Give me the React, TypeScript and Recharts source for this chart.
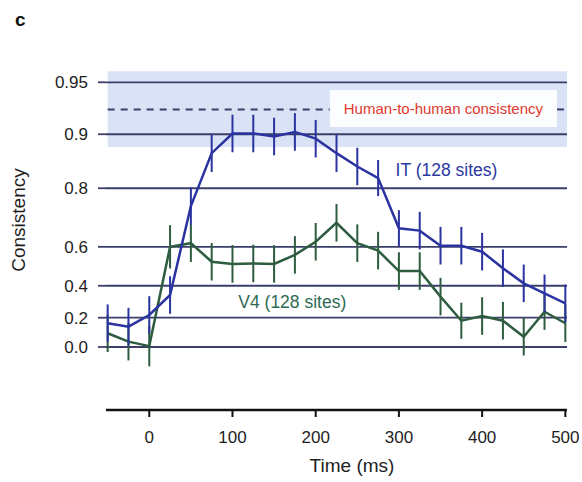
import React from 'react';
import {
  ComposedChart,
  Line,
  XAxis,
  YAxis,
  ErrorBar,
  ReferenceArea,
  ReferenceLine,
  ReferenceDot,
} from 'recharts';

// Time bins (ms relative to image onset)
const time = [-50, -25, 0, 25, 50, 75, 100, 125, 150, 175, 200, 225, 250, 275, 300, 325, 350, 375, 400, 425, 450, 475, 500];

// Consistency with human behaviour, IT population (128 sites)
const itConsistency = [0.163, 0.14, 0.218, 0.345, 0.751, 0.872, 0.901, 0.901, 0.897, 0.903, 0.894, 0.872, 0.848, 0.824, 0.676, 0.667, 0.605, 0.605, 0.578, 0.497, 0.414, 0.355, 0.293];
// Standard error, in Fisher-z units
const itSem = [0.13, 0.13, 0.13, 0.13, 0.13, 0.13, 0.13, 0.13, 0.13, 0.13, 0.13, 0.13, 0.13, 0.125, 0.125, 0.13, 0.13, 0.13, 0.13, 0.13, 0.13, 0.13, 0.13];

// Consistency with human behaviour, V4 population (128 sites)
const v4Consistency = [0.095, 0.037, 0.006, 0.6, 0.616, 0.53, 0.519, 0.521, 0.519, 0.563, 0.622, 0.696, 0.616, 0.583, 0.482, 0.482, 0.335, 0.18, 0.211, 0.18, 0.071, 0.239, 0.163];
const v4Sem = [0.13, 0.13, 0.14, 0.15, 0.13, 0.13, 0.13, 0.13, 0.13, 0.13, 0.13, 0.13, 0.13, 0.13, 0.13, 0.13, 0.13, 0.125, 0.13, 0.13, 0.13, 0.125, 0.13];

// Human-to-human consistency (mean and spread)
const humanMean = 0.928;
const humanLow = 0.882;
const humanHigh = 0.957;

// Axis ticks
const yTickValues = [0, 0.2, 0.4, 0.6, 0.8, 0.9, 0.95];
const yTickLabels = ['0.0', '0.2', '0.4', '0.6', '0.8', '0.9', '0.95'];
const xTickValues = [0, 100, 200, 300, 400, 500];

// Consistency is plotted on a Fisher-z (atanh) scale
const z = (r: number) => Math.atanh(r);

const data = time.map((t, i) => ({
  t,
  it: z(itConsistency[i]),
  itErr: itSem[i],
  v4: z(v4Consistency[i]),
  v4Err: v4Sem[i],
}));

const FONT = '"Liberation Sans", Arial, Helvetica, sans-serif';
const GRID = '#3b3e6a';
const IT_COLOR = '#2a33a0';
const V4_COLOR = '#2d5c3f';

const yTicks = yTickValues.map(z);
const formatY = (v: number) => {
  const i = yTicks.findIndex((tv) => Math.abs(tv - v) < 1e-6);
  return i >= 0 ? yTickLabels[i] : '';
};

export default function App() {
  return (
    <div style={{ position: 'absolute', left: 0, top: 0, width: 582, height: 482, fontFamily: FONT, background: '#fff' }}>
      <ComposedChart
        width={582}
        height={482}
        data={data}
        margin={{ top: 60, right: 15, bottom: 12, left: 0 }}
      >
        <XAxis
          dataKey="t"
          type="number"
          domain={[-52, 502]}
          ticks={xTickValues}
          allowDataOverflow
          tickSize={7}
          tickMargin={14}
          height={60}
          axisLine={{ stroke: '#111', strokeWidth: 2.5 }}
          tickLine={{ stroke: '#111', strokeWidth: 2 }}
          tick={{ fontSize: 17, fill: '#1e1e1e', fontFamily: FONT }}
        />
        <YAxis
          type="number"
          domain={[-0.436, 1.986]}
          ticks={yTicks}
          allowDataOverflow
          tickFormatter={formatY}
          width={106}
          tickSize={8}
          tickMargin={10}
          axisLine={false}
          tickLine={{ stroke: GRID, strokeWidth: 1.8 }}
          tick={{ fontSize: 17, fill: '#1e1e1e', fontFamily: FONT }}
        />

        {/* human-to-human consistency band */}
        <ReferenceArea
          x1={-50}
          x2={502}
          y1={z(humanLow)}
          y2={z(humanHigh)}
          fill="#dae3f5"
          fillOpacity={1}
          stroke="none"
          zIndex={-200}
        />

        {/* horizontal grid at each tick */}
        {yTicks.map((v) => (
          <ReferenceLine key={v} y={v} stroke={GRID} strokeWidth={1.8} zIndex={-150} />
        ))}

        {/* dashed human mean, broken around its label */}
        <ReferenceLine
          segment={[{ x: -50, y: z(humanMean) }, { x: 217, y: z(humanMean) }]}
          stroke={GRID}
          strokeWidth={2}
          strokeDasharray="7 6"
          zIndex={-150}
        />
        <ReferenceLine
          segment={[{ x: 490, y: z(humanMean) }, { x: 502, y: z(humanMean) }]}
          stroke={GRID}
          strokeWidth={2}
          strokeDasharray="7 6"
          zIndex={-150}
        />
        <ReferenceArea
          x1={217}
          x2={490}
          y1={1.522}
          y2={1.779}
          fill="#ffffff"
          fillOpacity={0.9}
          stroke="none"
          zIndex={-120}
          label={{ value: 'Human-to-human consistency', position: 'center', fill: '#e0392e', fontSize: 15, fontFamily: FONT }}
        />

        <Line
          dataKey="v4"
          type="linear"
          stroke={V4_COLOR}
          strokeWidth={2.5}
          dot={false}
          isAnimationActive={false}
        >
          <ErrorBar dataKey="v4Err" width={0} stroke={V4_COLOR} strokeWidth={2} direction="y" />
        </Line>
        <Line
          dataKey="it"
          type="linear"
          stroke={IT_COLOR}
          strokeWidth={2.5}
          dot={false}
          isAnimationActive={false}
        >
          <ErrorBar dataKey="itErr" width={0} stroke={IT_COLOR} strokeWidth={2} direction="y" />
        </Line>

        {/* series labels */}
        <ReferenceDot
          x={296}
          y={1.225}
          r={0}
          stroke="none"
          fill="none"
          label={{ value: 'IT (128 sites)', position: 'right', offset: 0, fill: '#2b38a0', fontSize: 17.5, fontFamily: FONT }}
        />
        <ReferenceDot
          x={107}
          y={0.311}
          r={0}
          stroke="none"
          fill="none"
          label={{ value: 'V4 (128 sites)', position: 'right', offset: 0, fill: '#2e6a52', fontSize: 17.5, fontFamily: FONT }}
        />
      </ComposedChart>

      <div style={{ position: 'absolute', left: 15, top: 9, fontSize: 19, fontWeight: 'bold', color: '#111' }}>c</div>
      <div
        style={{
          position: 'absolute',
          left: 19,
          top: 220,
          fontSize: 19,
          color: '#1e1e1e',
          whiteSpace: 'nowrap',
          transform: 'translate(-50%, -50%) rotate(-90deg)',
        }}
      >
        Consistency
      </div>
      <div
        style={{
          position: 'absolute',
          left: 352,
          top: 466,
          fontSize: 19,
          color: '#1e1e1e',
          whiteSpace: 'nowrap',
          transform: 'translate(-50%, -50%)',
        }}
      >
        Time (ms)
      </div>
    </div>
  );
}
